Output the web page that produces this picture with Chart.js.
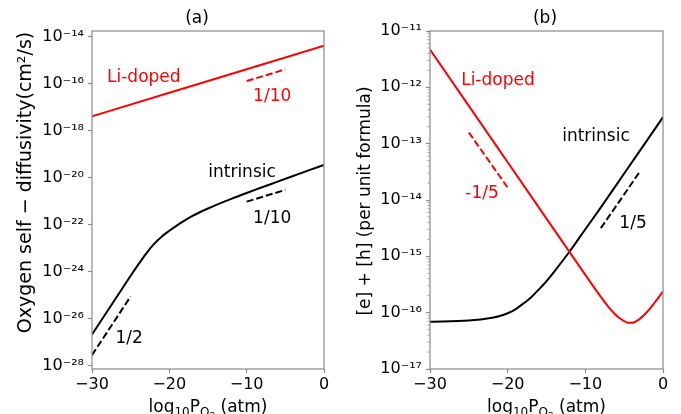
<!DOCTYPE html>
<html><head><meta charset="utf-8">
<script src="https://cdn.jsdelivr.net/npm/chart.js@4.4.1/dist/chart.umd.min.js"></script>
<style>
html,body{margin:0;padding:0;background:#fff;}
#wrap{position:relative;width:681px;height:414px;overflow:hidden;background:#fff;}
canvas{position:absolute;top:0;}
#ca{left:0;} #cb{left:340px;}
</style></head><body>
<div id="wrap"><canvas id="ca" width="340" height="414"></canvas><canvas id="cb" width="341" height="414"></canvas></div>
<script>
// ---------- Data: x = log10 PO2 (atm); y values stored as log10 of the plotted quantity ----------
const xTicks = [-30, -20, -10, 0];

// Panel (a): oxygen self-diffusivity (cm^2/s)
const aLiX   = [-30, -20, -10, 0];
const aLiLog = [-17.40, -16.40, -15.40, -14.40];
const aIntX   = [-30, -28, -26, -25, -24, -23, -22, -21, -20, -19, -18, -17, -16, -15, -14, -12, -10, -8, -6, -4, -2, 0];
const aIntLog = [-26.68, -25.68, -24.68, -24.18, -23.70, -23.24, -22.84, -22.52, -22.27, -22.04, -21.83, -21.64, -21.47, -21.32, -21.18, -20.91, -20.66, -20.42, -20.18, -19.94, -19.70, -19.47];
const aGuideLiX  = [-10, -5], aGuideLiLog  = [-15.90, -15.40];
const aGuideIntX = [-10, -5], aGuideIntLog = [-21.03, -20.53];
const aGuideLowX = [-30, -25], aGuideLowLog = [-27.56, -25.06];
const aYTickExp = [-28, -26, -24, -22, -20, -18, -16, -14];
const aYRangeLog = [-28.15, -13.77];

// Panel (b): [e] + [h] (per unit formula)
const bLiX   = [-30, -25, -20, -15, -12, -10, -8, -7, -6, -5, -4.5, -4, -3, -2, -1, 0];
const bLiLog = [-11.33, -12.33, -13.33, -14.33, -14.93, -15.33, -15.72, -15.90, -16.05, -16.15, -16.18, -16.18, -16.11, -15.98, -15.81, -15.62];
const bIntX   = [-30, -25, -22, -21, -20, -19, -18, -17, -16, -15, -14, -12, -10, -8, -5, 0];
const bIntLog = [-16.16, -16.14, -16.09, -16.06, -16.01, -15.94, -15.84, -15.73, -15.59, -15.44, -15.27, -14.91, -14.52, -14.13, -13.53, -12.53];
const bGuideLiX  = [-25, -20], bGuideLiLog  = [-12.80, -13.78];
const bGuideIntX = [-8, -3],   bGuideIntLog = [-14.50, -13.50];
const bYTickExp = [-17, -16, -15, -14, -13, -12, -11];
const bYRangeLog = [-17, -11];

// Text annotations (data coordinates)
const aNotes = [
  {text: 'Li-doped',  x: -23.3, y: -15.74, red: true},
  {text: '1/10',      x: -6.7,  y: -16.55, red: true},
  {text: 'intrinsic', x: -10.6, y: -19.79, red: false},
  {text: '1/10',      x: -6.7,  y: -21.76, red: false},
  {text: '1/2',       x: -25.2, y: -26.84, red: false}
];
const bNotes = [
  {text: 'Li-doped',  x: -21.25, y: -11.88, red: true},
  {text: 'intrinsic', x: -8.63,  y: -12.88, red: false},
  {text: '-1/5',      x: -23.3,  y: -13.88, red: true},
  {text: '1/5',       x: -3.86,  y: -14.41, red: false}
];

// ---------- helpers ----------
const RED = '#ff0000', BLACK = '#000000', SPINE = '#8a8a8a';
const FONT = '"DejaVu Sans", sans-serif';
const SUP = {'-':'\u207B','0':'\u2070','1':'\u00B9','2':'\u00B2','3':'\u00B3','4':'\u2074','5':'\u2075','6':'\u2076','7':'\u2077','8':'\u2078','9':'\u2079'};
const sup = s => String(s).split('').map(c => SUP[c] || c).join('');
const pts = (xs, ls) => xs.map((x, i) => ({x: x, y: Math.pow(10, ls[i])}));

function line(xs, ls, color, dashed) {
  return {
    data: pts(xs, ls), borderColor: color, borderWidth: 2, pointRadius: 0,
    borderDash: dashed ? [7, 3] : [], fill: false,
    cubicInterpolationMode: 'monotone', tension: 0.4
  };
}

function decoPlugin(cfg) {
  return {
    id: 'deco',
    afterDraw(chart) {
      const ctx = chart.ctx, ca = chart.chartArea;
      const xs = chart.scales.x, ys = chart.scales.y;
      ctx.save();
      // frame
      ctx.strokeStyle = SPINE; ctx.lineWidth = 1.2;
      ctx.strokeRect(ca.left, ca.top, ca.right - ca.left, ca.bottom - ca.top);
      // minor ticks
      if (cfg.minor) {
        ctx.lineWidth = 0.8;
        for (let d = cfg.minor[0]; d < cfg.minor[1]; d++) {
          for (let k = 2; k <= 9; k++) {
            const y = ys.getPixelForValue(k * Math.pow(10, d));
            ctx.beginPath(); ctx.moveTo(ca.left - 2.5, y); ctx.lineTo(ca.left, y); ctx.stroke();
          }
        }
      }
      // annotations
      ctx.font = '17px ' + FONT; ctx.textAlign = 'center'; ctx.textBaseline = 'middle';
      cfg.notes.forEach(n => {
        ctx.fillStyle = n.red ? RED : BLACK;
        ctx.fillText(n.text, xs.getPixelForValue(n.x), ys.getPixelForValue(Math.pow(10, n.y)));
      });
      // panel title
      ctx.fillStyle = BLACK; ctx.font = '17px ' + FONT;
      ctx.fillText(cfg.title, cfg.titleX, 19);
      // y axis title
      ctx.save();
      ctx.translate(cfg.yTitleX, cfg.yTitleY); ctx.rotate(-Math.PI / 2);
      ctx.font = cfg.yTitleSize + 'px ' + FONT; ctx.textAlign = 'center'; ctx.textBaseline = 'alphabetic';
      ctx.fillText(cfg.yTitle, 0, 0);
      ctx.restore();
      // x axis title: log10 P_O2 (atm) with subscripts
      const parts = [
        {t: 'log', s: 17, dy: 0}, {t: '10', s: 12, dy: 4}, {t: 'P', s: 17, dy: 0},
        {t: 'O', s: 12, dy: 4}, {t: '2', s: 9, dy: 6.5}, {t: ' (atm)', s: 17, dy: 0}
      ];
      let total = 0;
      parts.forEach(p => { ctx.font = p.s + 'px ' + FONT; p.w = ctx.measureText(p.t).width; total += p.w; });
      let x = (ca.left + ca.right) / 2 - total / 2;
      ctx.textAlign = 'left'; ctx.textBaseline = 'alphabetic';
      parts.forEach(p => { ctx.font = p.s + 'px ' + FONT; ctx.fillText(p.t, x, 412 + p.dy); x += p.w; });
      ctx.restore();
    }
  };
}

function makeChart(id, datasets, yRangeLog, yTickExp, yWidth, rightPad, cfg) {
  return new Chart(document.getElementById(id), {
    type: 'line',
    data: {datasets: datasets},
    options: {
      responsive: false, animation: false, devicePixelRatio: 1,
      layout: {padding: {top: 31, right: rightPad, left: 0, bottom: 0}},
      plugins: {legend: {display: false}, tooltip: {enabled: false}, title: {display: false}},
      scales: {
        x: {
          type: 'linear', min: -30, max: 0,
          afterBuildTicks: s => { s.ticks = xTicks.map(v => ({value: v})); },
          afterFit: s => { s.height = 45; },
          border: {display: false},
          grid: {drawOnChartArea: false, drawTicks: true, tickLength: 4, tickColor: SPINE, tickWidth: 1.2},
          ticks: {color: BLACK, font: {family: FONT, size: 16}, padding: 2, maxRotation: 0, autoSkip: false,
                  callback: v => String(v).replace('-', '\u2212')}
        },
        y: {
          type: 'logarithmic', min: Math.pow(10, yRangeLog[0]), max: Math.pow(10, yRangeLog[1]),
          afterBuildTicks: s => { s.ticks = yTickExp.map(e => ({value: Math.pow(10, e)})); },
          afterFit: s => { s.width = yWidth; },
          border: {display: false},
          grid: {drawOnChartArea: false, drawTicks: true, tickLength: 4, tickColor: SPINE, tickWidth: 1.2},
          ticks: {color: BLACK, font: {family: FONT, size: 16}, padding: 4, autoSkip: false,
                  callback: v => '10' + sup(Math.round(Math.log10(v)))}
        }
      }
    },
    plugins: [decoPlugin(cfg)]
  });
}

makeChart('ca', [
  line(aLiX, aLiLog, RED, false),
  line(aIntX, aIntLog, BLACK, false),
  line(aGuideLiX, aGuideLiLog, RED, true),
  line(aGuideIntX, aGuideIntLog, BLACK, true),
  line(aGuideLowX, aGuideLowLog, BLACK, true)
], aYRangeLog, aYTickExp, 92, 16, {
  notes: aNotes, title: '(a)', titleX: 197,
  yTitle: 'Oxygen self \u2212 diffusivity(cm\u00B2/s)', yTitleX: 31, yTitleY: 182.5, yTitleSize: 19,
  minor: null
});

makeChart('cb', [
  line(bLiX, bLiLog, RED, false),
  line(bIntX, bIntLog, BLACK, false),
  line(bGuideLiX, bGuideLiLog, RED, true),
  line(bGuideIntX, bGuideIntLog, BLACK, true)
], bYRangeLog, bYTickExp, 90, 18, {
  notes: bNotes, title: '(b)', titleX: 205,
  yTitle: '[e] + [h] (per unit formula)', yTitleX: 29.5, yTitleY: 201, yTitleSize: 17,
  minor: [-17, -11]
});
</script>
</body></html>
